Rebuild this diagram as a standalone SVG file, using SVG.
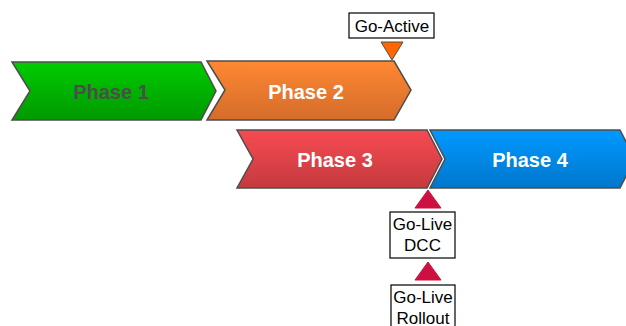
<svg xmlns="http://www.w3.org/2000/svg" width="626" height="326" viewBox="0 0 626 326">
<defs>
<linearGradient id="gGreen" x1="0" y1="0" x2="0" y2="1"><stop offset="0" stop-color="#00cc00"/><stop offset="1" stop-color="#009900"/></linearGradient>
<linearGradient id="gOrange" x1="0" y1="0" x2="0" y2="1"><stop offset="0" stop-color="#ff8833"/><stop offset="1" stop-color="#d46c2a"/></linearGradient>
<linearGradient id="gRed" x1="0" y1="0" x2="0" y2="1"><stop offset="0" stop-color="#f84a52"/><stop offset="1" stop-color="#c43a3e"/></linearGradient>
<linearGradient id="gBlue" x1="0" y1="0" x2="0" y2="1"><stop offset="0" stop-color="#0099ff"/><stop offset="1" stop-color="#0077cc"/></linearGradient>
</defs>
<style>
.phase{stroke:#4d4d4d;stroke-width:1.5;stroke-linejoin:miter}
.pt{font-family:"Liberation Sans",Arial,sans-serif;font-weight:bold;font-size:20px;text-anchor:middle;fill:#ffffff}
.box{fill:#ffffff;stroke:#000000;stroke-width:1.2}
.bt{font-family:"Liberation Sans",Arial,sans-serif;font-size:17px;text-anchor:middle;fill:#000000}
.tri{fill:#cc1040;stroke:#cc1040;stroke-width:1}
</style>
<g id="phase1">
<polygon class="phase" fill="url(#gGreen)" points="12,62 201,62 216,91 201,120 12,120 30,91"/>
<text class="pt" x="111" y="99" style="fill:#4d4d4d">Phase 1</text>
</g>
<g id="phase2">
<polygon class="phase" fill="url(#gOrange)" points="207,61 394,61 411,90 394,120 207,120 225,90"/>
<text class="pt" x="306" y="99">Phase 2</text>
</g>
<g id="phase3">
<polygon class="phase" fill="url(#gRed)" points="237,130 427,130 442,159 427,188 237,188 253,159"/>
<text class="pt" x="335" y="167">Phase 3</text>
</g>
<g id="phase4">
<polygon class="phase" fill="url(#gBlue)" points="430,130 620,130 635,159 620,188 430,188 445,159"/>
<text class="pt" x="530" y="167">Phase 4</text>
</g>
<g id="go-active">
<rect class="box" x="349" y="13" width="85" height="25"/>
<text class="bt" x="392" y="32">Go-Active</text>
<polygon points="381,42 403,42 392,60" fill="#ff6600" stroke="#4d4d4d" stroke-width="1"/>
</g>
<g id="go-live-dcc">
<polygon class="tri" points="428,190 441,208 415,208"/>
<rect class="box" x="390" y="212" width="65" height="46"/>
<text class="bt" x="422.5" y="230">Go-Live</text>
<text class="bt" x="422.5" y="251">DCC</text>
</g>
<g id="go-live-rollout">
<polygon class="tri" points="428,262 441,280 415,280"/>
<rect class="box" x="391" y="285" width="64" height="46"/>
<text class="bt" x="423" y="303">Go-Live</text>
<text class="bt" x="423" y="324">Rollout</text>
</g>
<g id="connectors"></g>
</svg>
